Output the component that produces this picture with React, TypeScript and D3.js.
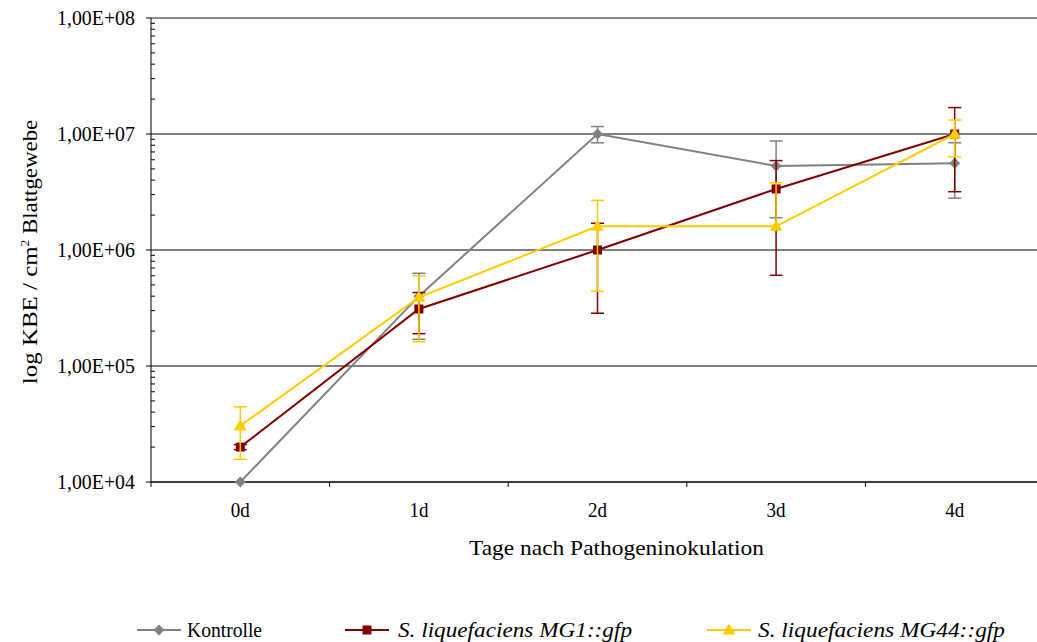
import React from "react";
import * as d3 from "d3";

const categories = ["0d", "1d", "2d", "3d", "4d"];
const yTicks = [1e4, 1e5, 1e6, 1e7, 1e8];
const yTickLabels = ["1,00E+04", "1,00E+05", "1,00E+06", "1,00E+07", "1,00E+08"];

const kontrolle = [1.0e4, 4.0e5, 1.0e7, 5.3e6, 5.6e6];
const kontrolleUpper = [null, 6.3e5, 1.16e7, 8.7e6, 8.4e6];
const kontrolleLower = [null, 1.7e5, 8.4e6, 1.9e6, 2.8e6];

const mg1 = [2.0e4, 3.1e5, 1.0e6, 3.36e6, 1.0e7];
const mg1Upper = [2.1e4, 4.3e5, 1.7e6, 5.9e6, 1.69e7];
const mg1Lower = [1.9e4, 1.9e5, 2.85e5, 6.05e5, 3.18e6];

const mg44 = [3.05e4, 3.9e5, 1.6e6, 1.6e6, 1.0e7];
const mg44Upper = [4.45e4, 6.0e5, 2.68e6, 3.8e6, 1.32e7];
const mg44Lower = [1.57e4, 1.62e5, 4.4e5, null, 6.37e6];

type Series = {
  name: string;
  italic: boolean;
  color: string;
  marker: "diamond" | "square" | "triangle";
  values: number[];
  upper: (number | null)[];
  lower: (number | null)[];
};

const series: Series[] = [
  { name: "Kontrolle", italic: false, color: "#808080", marker: "diamond", values: kontrolle, upper: kontrolleUpper, lower: kontrolleLower },
  { name: "S. liquefaciens MG1::gfp", italic: true, color: "#800000", marker: "square", values: mg1, upper: mg1Upper, lower: mg1Lower },
  { name: "S. liquefaciens MG44::gfp", italic: true, color: "#FFCC00", marker: "triangle", values: mg44, upper: mg44Upper, lower: mg44Lower },
];

const W = 1037;
const H = 642;
const left = 151;
const right = 1044;
const top = 18;
const bottom = 482;
const font = "'Liberation Serif', 'Times New Roman', serif";

const x = d3.scaleBand<string>().domain(categories).range([left, right]);
const y = d3.scaleLog().domain([1e4, 1e8]).range([bottom, top]);
const cx = (c: string) => (x(c) as number) + x.bandwidth() / 2;

function markerPath(kind: Series["marker"], px: number, py: number) {
  if (kind === "diamond") {
    const r = 5.5;
    return `M${px},${py - r}L${px + r},${py}L${px},${py + r}L${px - r},${py}Z`;
  }
  if (kind === "square") {
    const r = 4.5;
    return `M${px - r},${py - r}H${px + r}V${py + r}H${px - r}Z`;
  }
  const h = 11;
  const w = 6.5;
  return `M${px},${py - h * 0.6}L${px + w},${py + h * 0.4}L${px - w},${py + h * 0.4}Z`;
}

export default function App() {
  const line = d3
    .line<number>()
    .x((_, i) => cx(categories[i]))
    .y((v) => y(v));

  const minorTicks: number[] = [];
  for (let e = 4; e < 8; e++) {
    for (let k = 2; k <= 9; k++) minorTicks.push(k * Math.pow(10, e));
  }

  const legendItems = [
    { s: series[0], lx: 137, tx: 187, len: 75 },
    { s: series[1], lx: 345, tx: 398, len: 234 },
    { s: series[2], lx: 707, tx: 758, len: 247 },
  ];

  return (
    <svg
      width={W}
      height={H}
      style={{ position: "absolute", left: 0, top: 0, background: "#fff" }}
      fontFamily={font}
    >
      {/* horizontal gridlines */}
      {yTicks.map((t) => (
        <line
          key={"g" + t}
          x1={left}
          x2={W}
          y1={y(t)}
          y2={y(t)}
          stroke={t === 1e8 ? "#8c8c8c" : "#000"}
          strokeWidth={t === 1e8 ? 2 : 1}
        />
      ))}

      {/* y axis */}
      <line x1={left} x2={left} y1={top} y2={bottom + 5} stroke="#000" strokeWidth={1} />
      {yTicks.map((t, i) => (
        <g key={"yt" + t}>
          <line x1={left - 5} x2={left} y1={y(t)} y2={y(t)} stroke="#000" />
          <text
            x={57}
            y={y(t)}
            dy="0.36em"
            fontSize={20}
            textLength={78}
            lengthAdjust="spacingAndGlyphs"
            fill="#000"
          >
            {yTickLabels[i]}
          </text>
        </g>
      ))}
      {minorTicks.map((t) => (
        <line key={"mt" + t} x1={left} x2={left + 4} y1={y(t)} y2={y(t)} stroke="#000" />
      ))}

      {/* x axis */}
      <line x1={left} x2={W} y1={bottom} y2={bottom} stroke="#000" strokeWidth={1} />
      {categories.map((c, i) =>
        i === 0 ? null : (
          <line key={"xt" + c} x1={x(c)} x2={x(c)} y1={bottom} y2={bottom + 5} stroke="#000" />
        )
      )}
      {categories.map((c) => (
        <text
          key={"xl" + c}
          x={cx(c) - 9.5}
          y={517}
          fontSize={20}
          textLength={19}
          lengthAdjust="spacingAndGlyphs"
          fill="#000"
        >
          {c}
        </text>
      ))}

      {/* axis titles */}
      <text
        x={469}
        y={555}
        fontSize={21}
        textLength={295}
        lengthAdjust="spacingAndGlyphs"
        fill="#000"
      >
        Tage nach Pathogeninokulation
      </text>
      <text transform="translate(37,252) rotate(-90)" textAnchor="middle" fontSize={21} fill="#000">
        <tspan textLength={138} lengthAdjust="spacingAndGlyphs">log KBE / cm</tspan>
        <tspan dy={-8} fontSize={13}>2</tspan>
        <tspan dy={8} textLength={120} lengthAdjust="spacingAndGlyphs"> Blattgewebe</tspan>
      </text>

      {/* series */}
      {series.map((s) => (
        <g key={s.name}>
          {s.values.map((v, i) => {
            const px = cx(categories[i]);
            const up = s.upper[i];
            const lo = s.lower[i];
            const yTop = up != null ? y(up) : y(v);
            const yBot = lo != null ? y(lo) : y(v);
            return (
              <g key={"e" + i} stroke={s.color} strokeWidth={1.5}>
                <line x1={px} x2={px} y1={yTop} y2={yBot} />
                {up != null && <line x1={px - 6.5} x2={px + 6.5} y1={yTop} y2={yTop} />}
                {lo != null && <line x1={px - 6.5} x2={px + 6.5} y1={yBot} y2={yBot} />}
              </g>
            );
          })}
          <path d={line(s.values) as string} fill="none" stroke={s.color} strokeWidth={2} />
          {s.values.map((v, i) => (
            <path key={"m" + i} d={markerPath(s.marker, cx(categories[i]), y(v))} fill={s.color} />
          ))}
        </g>
      ))}

      {/* legend */}
      {legendItems.map(({ s, lx, tx, len }) => (
        <g key={"lg" + s.name}>
          <line x1={lx} x2={lx + 44} y1={630} y2={630} stroke={s.color} strokeWidth={2} />
          <path d={markerPath(s.marker, lx + 22, 630)} fill={s.color} />
          <text
            x={tx}
            y={637}
            fontSize={21}
            textLength={len}
            lengthAdjust="spacingAndGlyphs"
            fontStyle={s.italic ? "italic" : "normal"}
            fill="#000"
          >
            {s.name}
          </text>
        </g>
      ))}
    </svg>
  );
}
